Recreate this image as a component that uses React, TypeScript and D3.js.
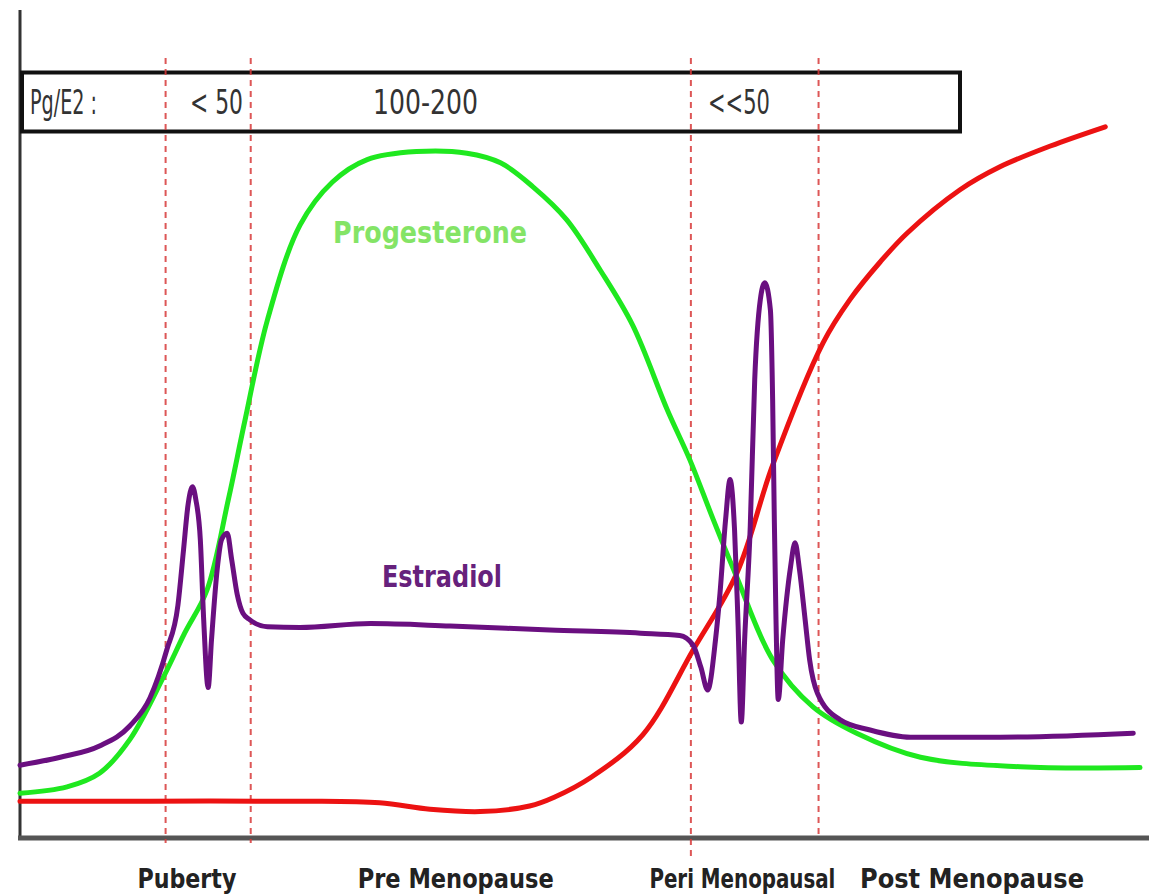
import React, { useEffect } from "react";
import * as d3 from "d3";

// ---- Data (abstract units: x = life stage axis 0..100, y = hormone level 0..100)
const progesteroneX = [0, 4.2, 7.1, 9.8, 12.8, 14.7, 16.7, 18.6, 20.1, 22.1, 25.0, 27.9, 31.0, 35.4, 39.9, 42.9, 45.8, 48.8, 51.8, 54.7, 57.8, 59.8, 61.9, 64.0, 67.2, 70.8, 74.7, 80.4, 89.3, 100];
const progesteroneY = [5.6, 6.4, 8.1, 12.3, 20.1, 25.6, 31.0, 42.3, 52.3, 64.8, 76.6, 82.0, 84.8, 85.8, 85.6, 84.4, 81.4, 77.3, 71.0, 64.1, 53.5, 47.3, 39.8, 32.6, 22.3, 16.4, 13.1, 10.1, 8.9, 8.8];

const lhX = [0, 11.6, 25.0, 32.1, 36.6, 41.1, 45.5, 47.7, 51.0, 55.6, 60.1, 64.0, 67.2, 71.7, 74.1, 76.8, 79.2, 83.9, 87.5, 92.0, 96.9];
const lhY = [4.6, 4.6, 4.6, 4.4, 3.6, 3.3, 4.0, 5.1, 7.6, 12.9, 23.5, 33.1, 46.6, 61.9, 67.3, 72.0, 75.6, 81.0, 83.9, 86.5, 88.9];

const estradiolX = [0, 3.6, 7.1, 9.8, 11.6, 13.1, 14.1, 14.6, 15.0, 15.4, 15.7, 16.1, 16.4, 16.8, 17.1, 17.6, 18.0, 18.5, 18.9, 19.4, 19.9, 20.5, 22.1, 25.0, 31.3, 38.4, 47.3, 55.4, 58.9, 60.1, 60.8, 61.4, 62.1, 62.5, 63.0, 63.4, 63.8, 64.1, 64.4, 64.7, 65.2, 65.6, 66.1, 66.5, 67.0, 67.2, 67.35, 67.5, 67.7, 68.1, 68.8, 69.2, 69.6, 70.1, 70.5, 71.2, 73.2, 75.9, 79.5, 87.5, 99.4];
const estradiolY = [9.1, 10.1, 11.5, 14.0, 17.5, 23.5, 29.1, 36.0, 41.6, 43.9, 42.3, 37.3, 27.3, 18.8, 24.8, 33.5, 37.3, 38.1, 34.8, 30.4, 28.1, 27.3, 26.4, 26.3, 26.8, 26.5, 26.0, 25.6, 25.3, 24.1, 21.3, 18.5, 24.8, 30.6, 39.8, 44.8, 38.5, 27.3, 14.5, 24.8, 38.9, 57.3, 67.3, 69.4, 66.0, 54.8, 39.8, 27.3, 17.3, 24.8, 33.9, 36.9, 33.5, 27.3, 22.3, 18.1, 14.8, 13.5, 12.6, 12.6, 13.1];

const phaseBoundaries = [13.0, 20.6, 59.9, 71.3];
const phaseLineBottoms = [843, 843, 856, 838];

const ratioLabels = ["Pg/E2 :", "< 50", "100-200", "<<50"];
const ratioStarts = [30, 190, 373, 708];
const ratioWidths = [67, 53, 105, 62];

const stageLabels = ["Puberty", "Pre Menopause", "Peri Menopausal", "Post Menopause"];
const stageCenters = [14.9, 38.9, 64.5, 85.0];
const stageWidths = [99, 196, 186, 224];

const W = 1159;
const H = 896;

export default function App() {
  useEffect(() => {
    document.body.style.margin = "0";
  }, []);

  const x = d3.scaleLinear().domain([0, 100]).range([20, 1140]);
  const y = d3.scaleLinear().domain([0, 100]).range([838, 38]);

  const mk = (xs: number[], ys: number[], curve: d3.CurveFactory) =>
    d3
      .line<number>()
      .x((_, i) => x(xs[i]))
      .y((d) => y(d))
      .curve(curve)(ys) || "";

  const smooth = d3.curveCatmullRom.alpha(0.5);
  const font = "'Liberation Sans Narrow','DejaVu Sans Condensed','Open Sans',sans-serif";

  return (
    <svg width={W} height={H} style={{ display: "block", background: "#fff" }}>
      {/* Axes */}
      <line x1={20} y1={10} x2={20} y2={838} stroke="#333" strokeWidth={3} />
      <line x1={18} y1={838} x2={1149} y2={838} stroke="#555" strokeWidth={5} />

      {/* Ratio box */}
      <rect x={22} y={72.5} width={938} height={59} fill="#fff" stroke="#111" strokeWidth={4} />
      {ratioLabels.map((t, i) => (
        <text
          key={t}
          x={ratioStarts[i]}
          y={114}
          fontFamily={font}
          fontSize={33}
          fill="#333"
          textLength={ratioWidths[i]}
          lengthAdjust="spacingAndGlyphs"
        >
          {t}
        </text>
      ))}

      {/* Phase boundaries */}
      {phaseBoundaries.map((b, i) => (
        <line
          key={i}
          x1={x(b)}
          x2={x(b)}
          y1={58}
          y2={phaseLineBottoms[i]}
          stroke="#d83a3a"
          strokeWidth={2}
          strokeDasharray="6,5"
          opacity={0.85}
        />
      ))}

      {/* Curves */}
      <path d={mk(lhX, lhY, smooth)} fill="none" stroke="#ec1212" strokeWidth={5} strokeLinecap="round" />
      <path d={mk(progesteroneX, progesteroneY, smooth)} fill="none" stroke="#1fe81f" strokeWidth={5} strokeLinecap="round" />
      <path d={mk(estradiolX, estradiolY, d3.curveMonotoneX)} fill="none" stroke="#6a0f80" strokeWidth={5} strokeLinecap="round" strokeLinejoin="round" />

      {/* Curve labels */}
      <text x={333} y={243} fontFamily={font} fontSize={31} fontWeight="bold" fill="#84e466" textLength={194} lengthAdjust="spacingAndGlyphs">
        Progesterone
      </text>
      <text x={382} y={587} fontFamily={font} fontSize={31} fontWeight="bold" fill="#66217c" textLength={120} lengthAdjust="spacingAndGlyphs">
        Estradiol
      </text>

      {/* Stage labels */}
      {stageLabels.map((t, i) => (
        <text
          key={t}
          x={x(stageCenters[i])}
          y={888}
          textAnchor="middle"
          fontFamily={font}
          fontSize={27}
          fontWeight="bold"
          fill="#222"
          textLength={stageWidths[i]}
          lengthAdjust="spacingAndGlyphs"
        >
          {t}
        </text>
      ))}
    </svg>
  );
}
